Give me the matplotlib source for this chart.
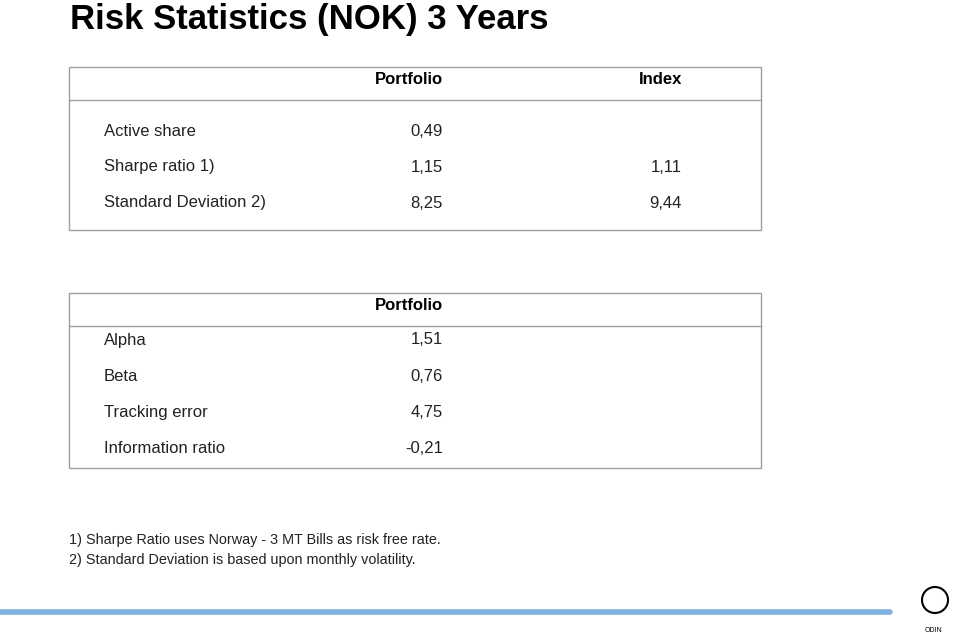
import matplotlib
matplotlib.use("Agg")
from matplotlib import pyplot as plt
from matplotlib.patches import Rectangle, Circle

plt.rcParams["font.family"] = "Liberation Sans"

title = "Risk Statistics (NOK) 3 Years"
risk_labels = ["Active share", "Sharpe ratio 1)", "Standard Deviation 2)"]
risk_portfolio = ["0,49", "1,15", "8,25"]
risk_index = ["", "1,11", "9,44"]
reg_labels = ["Alpha", "Beta", "Tracking error", "Information ratio"]
reg_portfolio = ["1,51", "0,76", "4,75", "-0,21"]
notes = ["1) Sharpe Ratio uses Norway - 3 MT Bills as risk free rate.",
         "2) Standard Deviation is based upon monthly volatility."]

fig = plt.figure(figsize=(9.6, 6.34), dpi=100)
ax = fig.add_axes([0, 0, 1, 1])
ax.set_xlim(0, 960)
ax.set_ylim(634, 0)
ax.axis("off")

ax.text(70, 19, title, fontsize=25, fontweight="bold", va="center", ha="left")

edge = "#a0a0a0"
txt = "#222222"
# table 1
ax.add_patch(Rectangle((69, 67), 692, 163, fill=False, ec=edge, lw=1))
ax.plot([69, 761], [100, 100], color=edge, lw=1)
ax.text(443, 80, "Portfolio", fontsize=12, fontweight="bold", ha="right", va="center")
ax.text(682, 80, "Index", fontsize=12, fontweight="bold", ha="right", va="center")
for i, (lab, p, ix) in enumerate(zip(risk_labels, risk_portfolio, risk_index)):
    y = 131 + 36 * i
    ax.text(104, y, lab, fontsize=12, va="center", color=txt)
    ax.text(443, y, p, fontsize=12, va="center", ha="right", color=txt)
    ax.text(682, y, ix, fontsize=12, va="center", ha="right", color=txt)

# table 2
ax.add_patch(Rectangle((69, 293), 692, 175, fill=False, ec=edge, lw=1))
ax.plot([69, 761], [326, 326], color=edge, lw=1)
ax.text(443, 305, "Portfolio", fontsize=12, fontweight="bold", ha="right", va="center")
for i, (lab, p) in enumerate(zip(reg_labels, reg_portfolio)):
    y = 340 + 36.3 * i
    ax.text(104, y, lab, fontsize=12, va="center", color=txt)
    ax.text(443, y, p, fontsize=12, va="center", ha="right", color=txt)

for i, n in enumerate(notes):
    ax.text(69, 540 + 20 * i, n, fontsize=10.4, va="center", color=txt)

# bottom decorative line and logo
ax.plot([0, 890], [612, 612], color="#7fb2e0", lw=4, solid_capstyle="round")
ax.add_patch(Circle((935, 600), 13, fill=False, ec="black", lw=1.5))
ax.text(925, 630, "ODIN", fontsize=5, va="center")

fig.savefig("out.png", dpi=100)
